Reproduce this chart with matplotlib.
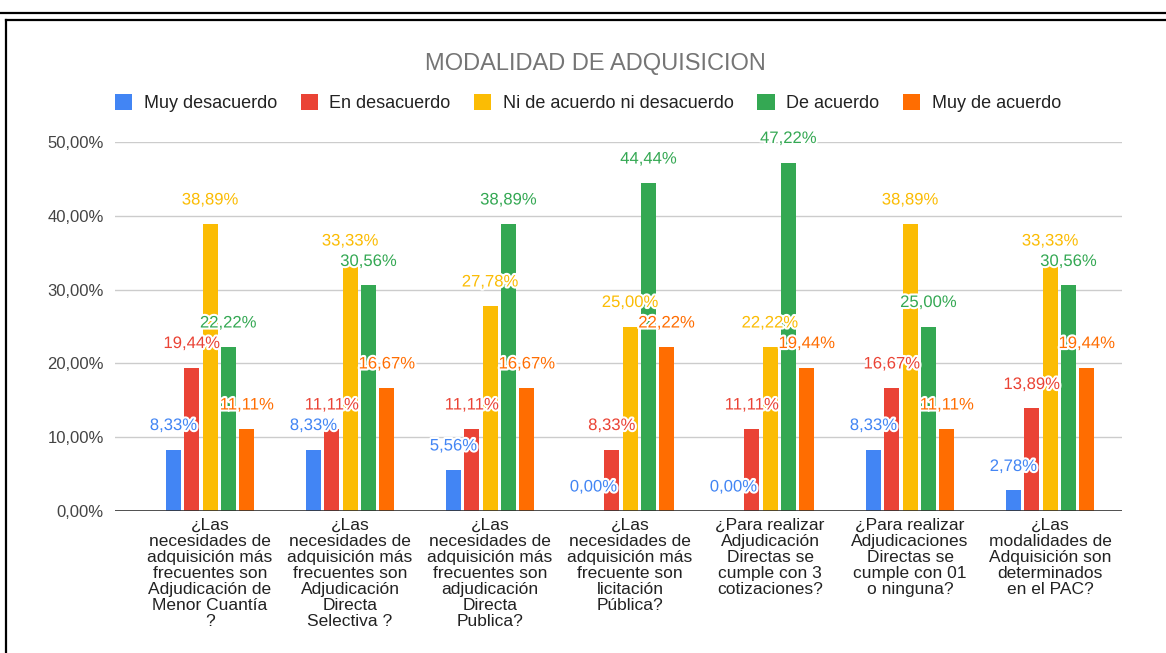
import matplotlib
matplotlib.use("Agg")
import matplotlib.pyplot as plt
import matplotlib.patheffects as pe
from matplotlib.lines import Line2D
from matplotlib.patches import Patch
import numpy as np

plt.rcParams['font.family'] = ['Liberation Sans', 'DejaVu Sans']

title = "MODALIDAD DE ADQUISICION"
categories = [
    "¿Las\nnecesidades de\nadquisición más\nfrecuentes son\nAdjudicación de\nMenor Cuantía\n?",
    "¿Las\nnecesidades de\nadquisición más\nfrecuentes son\nAdjudicación\nDirecta\nSelectiva ?",
    "¿Las\nnecesidades de\nadquisición más\nfrecuentes son\nadjudicación\nDirecta\nPublica?",
    "¿Las\nnecesidades de\nadquisición más\nfrecuente son\nlicitación\nPública?",
    "¿Para realizar\nAdjudicación\nDirectas se\ncumple con 3\ncotizaciones?",
    "¿Para realizar\nAdjudicaciones\nDirectas se\ncumple con 01\no ninguna?",
    "¿Las\nmodalidades de\nAdquisición son\ndeterminados\nen el PAC?",
]
series_names = ["Muy desacuerdo", "En desacuerdo", "Ni de acuerdo ni desacuerdo",
                "De acuerdo", "Muy de acuerdo"]
muy_desacuerdo = [8.33, 8.33, 5.56, 0.00, 0.00, 8.33, 2.78]
en_desacuerdo = [19.44, 11.11, 11.11, 8.33, 11.11, 16.67, 13.89]
ni_ni = [38.89, 33.33, 27.78, 25.00, 22.22, 38.89, 33.33]
de_acuerdo = [22.22, 30.56, 38.89, 44.44, 47.22, 25.00, 30.56]
muy_de_acuerdo = [11.11, 16.67, 16.67, 22.22, 19.44, 11.11, 19.44]
colors = ["#4285F4", "#EA4335", "#FBBC04", "#34A853", "#FF6D01"]
yticks = [0, 10, 20, 30, 40, 50]

series = [muy_desacuerdo, en_desacuerdo, ni_ni, de_acuerdo, muy_de_acuerdo]


def pct(v):
    return f"{v:.2f}%".replace(".", ",")


fig = plt.figure(figsize=(11.66, 6.53), dpi=100)
ax = fig.add_axes([115 / 1166, 1 - 511 / 653, (1122 - 115) / 1166, (511 - 142) / 653])

x = np.arange(len(categories))
step = 0.131
width = 0.107
for i, (vals, c) in enumerate(zip(series, colors)):
    xs = x + (i - 2) * step
    ax.bar(xs, vals, width=width, color=c, zorder=2)
    for xi, v in zip(xs, vals):
        ax.annotate(pct(v), (xi, v), xytext=(0, 24), textcoords="offset pixels",
                    ha="center", va="center", fontsize=12, color=c, zorder=5,
                    annotation_clip=False,
                    path_effects=[pe.withStroke(linewidth=3, foreground="white")])

ax.set_xlim(-0.679, 6.514)
ax.set_ylim(0, 50)
ax.set_yticks(yticks)
ax.set_yticklabels([pct(t) for t in yticks], fontsize=12, color="#444444")
ax.set_xticks(x)
ax.set_xticklabels(categories, fontsize=12.5, color="#222222", linespacing=1.08)
ax.tick_params(axis="both", length=0)
ax.tick_params(axis="x", pad=5)
ax.tick_params(axis="y", pad=8)
for s in ax.spines.values():
    s.set_visible(False)
ax.grid(axis="y", color="#cccccc", linewidth=1, zorder=0)
ax.axhline(0, color="#333333", linewidth=1.2, zorder=3)

fig.text(595 / 1166, 1 - 64 / 653, title, ha="center", va="center",
         fontsize=17, color="#757575")

handles = [Patch(facecolor=c, edgecolor="none") for c in colors]
fig.legend(handles, series_names, loc="center", bbox_to_anchor=(588 / 1166, 1 - 103 / 653),
           ncol=5, frameon=False, fontsize=13, handlelength=0.95, handleheight=0.95,
           handletextpad=0.65, columnspacing=1.3, labelcolor="#222222")

# page border lines
fig.add_artist(Line2D([0, 1], [1 - 13 / 653, 1 - 13 / 653], color="black", linewidth=1.6))
fig.add_artist(Line2D([0.005, 1], [1 - 20 / 653, 1 - 20 / 653], color="black", linewidth=1.6))
fig.add_artist(Line2D([6 / 1166, 6 / 1166], [0, 1 - 20 / 653], color="black", linewidth=1.6))

fig.savefig("out.png", dpi=100)
